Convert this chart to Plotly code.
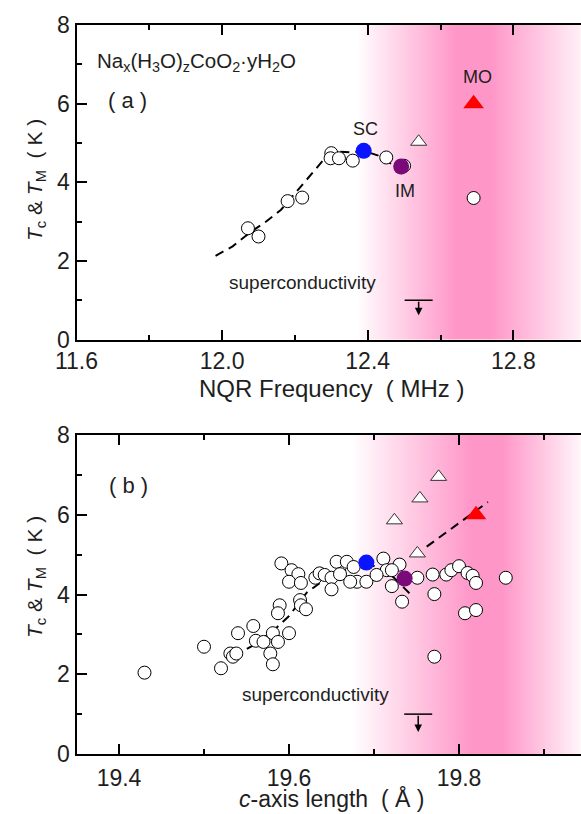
import plotly.graph_objects as go

# ---------------- panel (a): Tc / TM versus NQR frequency ----------------
nqr_open_f = [12.071, 12.100, 12.180, 12.220, 12.300, 12.298, 12.321, 12.359, 12.451, 12.500, 12.691]
nqr_open_T = [2.83, 2.62, 3.52, 3.61, 4.74, 4.61, 4.61, 4.55, 4.63, 4.42, 3.60]
nqr_tri_f = [12.540]
nqr_tri_T = [5.03]
nqr_sc = (12.389, 4.8)
nqr_im = (12.492, 4.4)
nqr_mo = (12.691, 6.0)
nqr_limit = (12.540, 1.0)
nqr_curve_f = [11.982, 12.029, 12.075, 12.121, 12.162, 12.204, 12.249, 12.286, 12.323, 12.359, 12.389, 12.432, 12.469, 12.498]
nqr_curve_T = [2.13, 2.37, 2.71, 3.00, 3.30, 3.76, 4.23, 4.65, 4.78, 4.76, 4.80, 4.67, 4.44, 4.19]

# ---------------- panel (b): Tc / TM versus c-axis length ----------------
c_open = [19.591, 19.603, 19.611, 19.600, 19.614, 19.631, 19.636, 19.642, 19.650, 19.650,
          19.656, 19.668, 19.660, 19.676, 19.680, 19.691, 19.672, 19.589, 19.587, 19.613,
          19.614, 19.620, 19.558, 19.540, 19.581, 19.600, 19.561, 19.570, 19.587, 19.578,
          19.581, 19.500, 19.531, 19.534, 19.538, 19.520, 19.430,
          19.711, 19.715, 19.730, 19.703, 19.721, 19.721, 19.733, 19.751, 19.769, 19.771,
          19.785, 19.791, 19.800, 19.810, 19.816, 19.820, 19.855, 19.807, 19.820, 19.771]
T_open_b = [4.78, 4.61, 4.51, 4.32, 4.29, 4.42, 4.53, 4.49, 4.42, 4.13,
            4.82, 4.82, 4.51, 4.69, 4.32, 4.32, 4.32, 3.73, 3.53, 3.86,
            3.73, 3.63, 3.21, 3.03, 3.03, 3.03, 2.84, 2.81, 2.81, 2.52,
            2.25, 2.69, 2.52, 2.44, 2.52, 2.15, 2.04,
            4.90, 4.61, 4.75, 4.49, 4.61, 4.21, 3.82, 4.42, 4.50, 4.01,
            4.50, 4.61, 4.71, 4.54, 4.47, 4.29, 4.42, 3.53, 3.61, 2.44]
c_tri = [19.776, 19.754, 19.724, 19.751]
T_tri_b = [6.95, 6.41, 5.86, 5.03]
c_sc = (19.691, 4.8)
c_im = (19.736, 4.4)
c_mo = (19.820, 6.0)
c_limit = (19.752, 1.0)
c_curve1 = [19.535, 19.560, 19.585, 19.600, 19.621, 19.650, 19.691, 19.715, 19.744]
T_curve1 = [2.45, 2.75, 3.16, 3.46, 4.05, 4.50, 4.78, 4.60, 3.98]
c_curve2 = [19.762, 19.834]
T_curve2 = [5.20, 6.32]

# pink band (magnetic-order region): stop positions and relative intensity
band_a_x = [12.30, 12.37, 12.645, 12.736, 12.99, 13.05]
band_a_w = [0.0, 0.0, 1.0, 1.0, 0.12, 0.05]
band_b_x = [19.60, 19.674, 19.815, 19.850, 19.945, 20.0]
band_b_w = [0.0, 0.0, 1.0, 1.0, 0.06, 0.0]

# x ranges / tick labels
range_a = [11.6, 12.986]
range_b = [19.35, 19.9435]
y_range = [0, 8]

FONT = "Liberation Sans, Arial, Helvetica, sans-serif"
TXT = "#1e1e1e"
PINK = "rgb(255,150,200)"
W, H = 581, 814

left = 76.5 / W
dom_a = [1 - 339.5 / H, 1 - 25 / H]
dom_b = [1 - 754 / H, 1 - 435 / H]

fig = go.Figure()

band_scale = [[0, "white"], [1, PINK]]
fig.add_trace(go.Heatmap(x=band_a_x, y=y_range, z=[band_a_w, band_a_w], zsmooth="best",
                         colorscale=band_scale, zmin=0, zmax=1, showscale=False,
                         hoverinfo="skip", xaxis="x", yaxis="y"))
fig.add_trace(go.Heatmap(x=band_b_x, y=y_range, z=[band_b_w, band_b_w], zsmooth="best",
                         colorscale=band_scale, zmin=0, zmax=1, showscale=False,
                         hoverinfo="skip", xaxis="x2", yaxis="y2"))

dash_line = dict(color="black", width=2, dash="9px,6px")
open_circle = dict(symbol="circle", size=13, color="white", line=dict(color="black", width=1))
open_tri = dict(symbol="triangle-up", size=14, color="white", line=dict(color="#333", width=1))
limit_bar = dict(symbol="line-ew", size=20, line=dict(color="black", width=1.5))


def add_panel(xa, ya, curves, ox, oy, tx, ty, sc, im, mo, lim):
    for cx, cy in curves:
        fig.add_trace(go.Scatter(x=cx, y=cy, mode="lines", line=dash_line,
                                 xaxis=xa, yaxis=ya, hoverinfo="skip"))
    fig.add_trace(go.Scatter(x=ox, y=oy, mode="markers", marker=open_circle, xaxis=xa, yaxis=ya))
    fig.add_trace(go.Scatter(x=tx, y=ty, mode="markers", marker=open_tri, xaxis=xa, yaxis=ya))
    fig.add_trace(go.Scatter(x=[sc[0]], y=[sc[1]], mode="markers",
                             marker=dict(symbol="circle", size=16, color="#0a14ff"), xaxis=xa, yaxis=ya))
    fig.add_trace(go.Scatter(x=[im[0]], y=[im[1]], mode="markers",
                             marker=dict(symbol="circle", size=16, color="#7a0a7a"), xaxis=xa, yaxis=ya))
    fig.add_trace(go.Scatter(x=[mo[0]], y=[mo[1]], mode="markers",
                             marker=dict(symbol="triangle-up", size=18, color="#ff0000",
                                         line=dict(color="#ff0000", width=0)), xaxis=xa, yaxis=ya))
    fig.add_trace(go.Scatter(x=[lim[0]], y=[lim[1]], mode="markers", marker=limit_bar,
                             xaxis=xa, yaxis=ya))


add_panel("x", "y", [(nqr_curve_f, nqr_curve_T)], nqr_open_f, nqr_open_T, nqr_tri_f, nqr_tri_T,
          nqr_sc, nqr_im, nqr_mo, nqr_limit)
add_panel("x2", "y2", [(c_curve1, T_curve1), (c_curve2, T_curve2)], c_open, T_open_b, c_tri, T_tri_b,
          c_sc, c_im, c_mo, c_limit)

tickfont = dict(family=FONT, size=23, color=TXT)


def xaxis_cfg(rng, dom_y_anchor, dt, t0, standoff):
    return dict(range=rng, domain=[left, 1], anchor=dom_y_anchor, showline=True, linecolor="black",
                linewidth=2, mirror="ticks", ticks="inside", ticklen=10, tickwidth=1.5,
                tickcolor="black", dtick=dt, tick0=t0, tickformat=".1f", tickfont=tickfont,
                ticklabelstandoff=standoff,
                showgrid=False, zeroline=False, automargin=False,
                minor=dict(ticks="inside", ticklen=5, tickwidth=1.5, tickcolor="black", dtick=dt / 2))


def yaxis_cfg(dom, anchor):
    return dict(range=y_range, domain=dom, anchor=anchor, showline=True, linecolor="black",
                linewidth=2, mirror=False, ticks="inside", ticklen=10, tickwidth=1.5,
                tickcolor="black", dtick=2, tick0=0, tickfont=tickfont, showgrid=False,
                zeroline=False, automargin=False,
                minor=dict(ticks="inside", ticklen=5, tickwidth=1.5, tickcolor="black", dtick=1))


def yright_cfg(over, anchor):
    return dict(range=y_range, overlaying=over, anchor=anchor, side="right", showline=False,
                ticks="inside", ticklen=10, tickwidth=1.5, tickcolor="black", dtick=2, tick0=0,
                showticklabels=False, showgrid=False, zeroline=False, automargin=False,
                minor=dict(ticks="inside", ticklen=5, tickwidth=1.5, tickcolor="black", dtick=1))


def txt(x, y, s, size, xref, yref, **kw):
    base = dict(x=x, y=y, text=s, xref=xref, yref=yref, showarrow=False,
                xanchor="center", yanchor="middle",
                font=dict(family=FONT, size=size, color=TXT))
    base.update(kw)
    return base


ytitle = "<i>T</i><sub>c</sub> &amp; <i>T</i><sub>M</sub>\u00a0\u00a0(\u00a0K\u00a0)"
annotations = [
    # panel (a) labels
    txt(11.652, 7.06, "Na<sub>x</sub>(H<sub>3</sub>O)<sub>z</sub>CoO<sub>2</sub>\u00b7yH<sub>2</sub>O",
        20.5, "x", "y", xanchor="left"),
    txt(11.741, 6.07, "(\u00a0a\u00a0)", 22, "x", "y"),
    txt(12.394, 5.36, "SC", 18, "x", "y"),
    txt(12.503, 3.79, "IM", 18, "x", "y"),
    txt(12.701, 6.67, "MO", 18, "x", "y"),
    txt(12.222, 1.44, "superconductivity", 19, "x", "y"),
    # panel (b) labels
    txt(19.411, 6.74, "(\u00a0b\u00a0)", 22, "x2", "y2"),
    txt(19.631, 1.50, "superconductivity", 19, "x2", "y2"),
    # axis titles
    txt(331.75 / W, 1 - 388 / H, "NQR Frequency\u00a0\u00a0(\u00a0MHz\u00a0)", 24, "paper", "paper"),
    txt(331.75 / W, 1 - 798 / H, "<i>c</i>-axis length\u00a0\u00a0(\u00a0\u00c5\u00a0)", 23, "paper", "paper"),
    txt(36 / W, 1 - 180 / H, ytitle, 21, "paper", "paper", textangle=-90),
    txt(36 / W, 1 - 577 / H, ytitle, 21, "paper", "paper", textangle=-90),
]

# down arrows under the upper-limit bars
for xr, yr, (lx, ly), tip in [("x", "y", nqr_limit, 0.62), ("x2", "y2", c_limit, 0.55)]:
    annotations.append(dict(x=lx, y=tip, ax=lx, ay=ly, xref=xr, yref=yr, axref=xr, ayref=yr,
                            text="", showarrow=True, arrowhead=2, arrowsize=1, arrowwidth=1.5,
                            arrowcolor="black", standoff=0, startstandoff=0))

fig.update_layout(
    width=W, height=H, margin=dict(l=0, r=0, t=0, b=0, autoexpand=False),
    paper_bgcolor="white", plot_bgcolor="white", showlegend=False,
    xaxis=xaxis_cfg(range_a, "y", 0.4, 11.6, 0),
    yaxis=yaxis_cfg(dom_a, "x"),
    xaxis2=xaxis_cfg(range_b, "y2", 0.2, 19.4, 2),
    yaxis2=yaxis_cfg(dom_b, "x2"),
    yaxis3=yright_cfg("y", "x"),
    yaxis4=yright_cfg("y2", "x2"),
    annotations=annotations,
)

fig.write_html("out.html")
